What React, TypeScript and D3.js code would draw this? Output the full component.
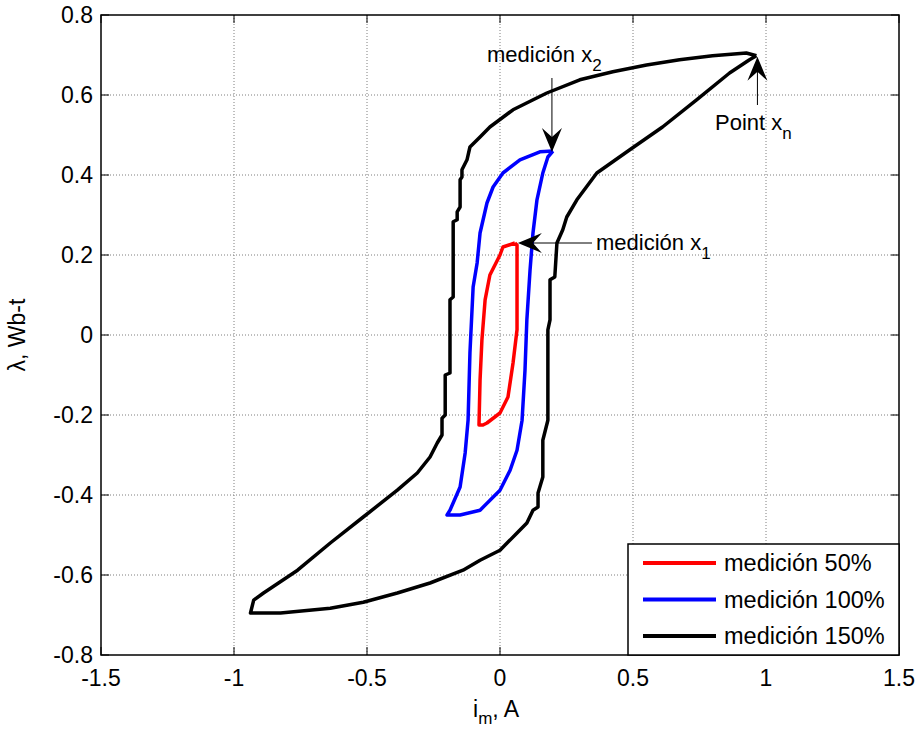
import React from 'react';
import * as d3 from 'd3';

const loop150: [number, number][] = [
  [0.964, 0.698], [0.926, 0.705], [0.799, 0.698], [0.675, 0.688], [0.551, 0.675],
  [0.424, 0.658], [0.300, 0.638], [0.176, 0.605], [0.049, 0.563], [-0.038, 0.520],
  [-0.075, 0.495], [-0.113, 0.470], [-0.124, 0.438], [-0.143, 0.413], [-0.143, 0.395],
  [-0.150, 0.388], [-0.150, 0.320], [-0.161, 0.308], [-0.161, 0.288], [-0.176, 0.283],
  [-0.176, 0.095], [-0.188, 0.088], [-0.188, -0.095], [-0.206, -0.100], [-0.206, -0.200],
  [-0.218, -0.208], [-0.218, -0.250], [-0.236, -0.270], [-0.263, -0.305], [-0.311, -0.345],
  [-0.386, -0.388], [-0.514, -0.455], [-0.638, -0.520], [-0.761, -0.588], [-0.889, -0.645],
  [-0.926, -0.663], [-0.938, -0.695], [-0.825, -0.695], [-0.638, -0.683], [-0.514, -0.668],
  [-0.386, -0.645], [-0.263, -0.620], [-0.139, -0.588], [-0.075, -0.563], [0.000, -0.538],
  [0.064, -0.495], [0.101, -0.470], [0.124, -0.438], [0.143, -0.430], [0.143, -0.395],
  [0.161, -0.355], [0.161, -0.263], [0.180, -0.213], [0.180, 0.013], [0.188, 0.038],
  [0.188, 0.138], [0.206, 0.145], [0.214, 0.230], [0.236, 0.263], [0.251, 0.295],
  [0.289, 0.338], [0.364, 0.405], [0.488, 0.463], [0.611, 0.520], [0.739, 0.588],
  [0.863, 0.655], [0.938, 0.688], [0.964, 0.698],
];

const loop100: [number, number][] = [
  [0.199, 0.460], [0.150, 0.458], [0.075, 0.438], [0.011, 0.405], [-0.026, 0.370],
  [-0.049, 0.330], [-0.075, 0.255], [-0.086, 0.180], [-0.101, 0.120], [-0.113, -0.045],
  [-0.120, -0.213], [-0.131, -0.295], [-0.150, -0.380], [-0.188, -0.438], [-0.199, -0.450],
  [-0.150, -0.450], [-0.075, -0.438], [0.000, -0.388], [0.038, -0.338], [0.064, -0.288],
  [0.083, -0.213], [0.094, -0.088], [0.101, 0.038], [0.113, 0.163], [0.124, 0.255],
  [0.139, 0.338], [0.161, 0.405], [0.180, 0.445], [0.199, 0.460],
];

const loop50: [number, number][] = [
  [0.056, 0.230], [0.011, 0.220], [0.000, 0.200], [-0.038, 0.150], [-0.056, 0.088],
  [-0.068, -0.013], [-0.075, -0.113], [-0.079, -0.225], [-0.064, -0.225], [-0.049, -0.220],
  [0.000, -0.195], [0.030, -0.155], [0.049, -0.070], [0.064, 0.013], [0.064, 0.163],
  [0.064, 0.225], [0.056, 0.230],
];

const xTicks = [-1.5, -1, -0.5, 0, 0.5, 1, 1.5];
const yTicks = [-0.8, -0.6, -0.4, -0.2, 0, 0.2, 0.4, 0.6, 0.8];
const legendLabels = ['medición 50%', 'medición 100%', 'medición 150%'];
const seriesColors = ['#ff0000', '#0000ff', '#000000'];

const W = 923, H = 735;
const font = 'Arial, "Liberation Sans", Helvetica, sans-serif';

// vback2 style arrow head, tip at (tx,ty), pointing along angle (radians)
function arrowHead(tx: number, ty: number, ang: number) {
  const len = 24, half = 10, notch = 15;
  const c = Math.cos(ang), s = Math.sin(ang);
  const pt = (a: number, b: number) => [tx - a * c - b * -s, ty - a * s - b * c];
  const p = [pt(0, 0), pt(len, half), pt(notch, 0), pt(len, -half)];
  return 'M' + p.map((d) => d.join(',')).join('L') + 'Z';
}

// matlab style labels: plain hyphen, no trailing zeros
const fmt = (t: number) => String(+t.toFixed(1));

export default function App() {
  const x = d3.scaleLinear().domain([-1.5, 1.5]).range([101, 899]);
  const y = d3.scaleLinear().domain([-0.8, 0.8]).range([655, 15]);
  const line = d3.line<[number, number]>().x((d) => x(d[0])).y((d) => y(d[1]));
  const loops = [loop50, loop100, loop150];

  const left = x(-1.5), right = x(1.5), top = y(0.8), bottom = y(-0.8);
  const tick = 8;

  // annotation anchors taken from the loop tips
  const tipX2 = loop100[0], tipX1 = loop50[0], tipXn = loop150[0];

  return (
    <div style={{ position: 'absolute', left: 0, top: 0 }}>
      <svg width={W} height={H} style={{ display: 'block', background: '#fff' }} fontFamily={font}>
        {/* grid */}
        <g stroke="#7f7f7f" strokeWidth={1} strokeDasharray="1,2">
          {xTicks.slice(1, -1).map((t) => (
            <line key={'gx' + t} x1={x(t)} x2={x(t)} y1={top} y2={bottom} />
          ))}
          {yTicks.slice(1, -1).map((t) => (
            <line key={'gy' + t} x1={left} x2={right} y1={y(t)} y2={y(t)} />
          ))}
        </g>

        {/* ticks */}
        <g stroke="#000" strokeWidth={1}>
          {xTicks.map((t) => (
            <g key={'tx' + t}>
              <line x1={x(t)} x2={x(t)} y1={bottom} y2={bottom - tick} />
              <line x1={x(t)} x2={x(t)} y1={top} y2={top + tick} />
            </g>
          ))}
          {yTicks.map((t) => (
            <g key={'ty' + t}>
              <line x1={left} x2={left + tick} y1={y(t)} y2={y(t)} />
              <line x1={right} x2={right - tick} y1={y(t)} y2={y(t)} />
            </g>
          ))}
        </g>

        {/* loops */}
        {loops.map((d, i) => (
          <path key={i} d={line(d) || ''} fill="none" stroke={seriesColors[i]}
            strokeWidth={3.5} strokeLinejoin="round" />
        ))}

        {/* annotations */}
        <g stroke="#000" strokeWidth={1} fill="#000">
          <line x1={x(tipX2[0]) - 1} x2={x(tipX2[0]) - 1} y1={78} y2={y(tipX2[1]) - 10} />
          <path d={arrowHead(x(tipX2[0]) - 1, y(tipX2[1]) + 1, Math.PI / 2)} stroke="none" />
          <line x1={592} x2={x(tipX1[0]) + 10} y1={y(tipX1[1])} y2={y(tipX1[1])} />
          <path d={arrowHead(x(tipX1[0]) + 3, y(tipX1[1]), Math.PI)} stroke="none" />
          <line x1={x(tipXn[0]) + 1} x2={x(tipXn[0]) + 1} y1={105} y2={y(tipXn[1]) + 10} />
          <path d={arrowHead(x(tipXn[0]) + 1, y(tipXn[1]) + 1, -Math.PI / 2)} stroke="none" />
        </g>
        <g fontSize={22} fill="#000">
          <text x={487} y={62}>medición x<tspan fontSize={17} dy={9}>2</tspan></text>
          <text x={596} y={250}>medición x<tspan fontSize={17} dy={9}>1</tspan></text>
          <text x={715} y={130}>Point x<tspan fontSize={17} dy={9}>n</tspan></text>
        </g>

        {/* axes box */}
        <rect x={left} y={top} width={right - left} height={bottom - top}
          fill="none" stroke="#000" strokeWidth={1.5} />

        {/* tick labels */}
        <g fontSize={23} fill="#000">
          {xTicks.map((t) => (
            <text key={'lx' + t} x={x(t)} y={686} textAnchor="middle">{fmt(t)}</text>
          ))}
          {yTicks.map((t) => (
            <text key={'ly' + t} x={93} y={y(t)} dy="0.36em" textAnchor="end">{fmt(t)}</text>
          ))}
        </g>

        {/* axis labels */}
        <text x={473} y={717} fontSize={23} fill="#000">
          i<tspan fontSize={17} dy={7}>m</tspan><tspan dy={-7}>, A</tspan>
        </text>
        <text transform={`translate(25,${(top + bottom) / 2}) rotate(-90)`} fontSize={23}
          textAnchor="middle" fill="#000">λ, Wb-t</text>

        {/* legend */}
        <g>
          <rect x={628} y={544} width={right - 628} height={bottom - 544} fill="#fff"
            stroke="#000" strokeWidth={1.5} />
          {legendLabels.map((lab, i) => (
            <g key={lab} transform={`translate(0,${563 + i * 36.5})`}>
              <line x1={643} x2={716} y1={0} y2={0} stroke={seriesColors[i]} strokeWidth={4} />
              <text x={724} y={0} dy="0.36em" fontSize={23.5} fill="#000">{lab}</text>
            </g>
          ))}
        </g>
      </svg>
    </div>
  );
}
